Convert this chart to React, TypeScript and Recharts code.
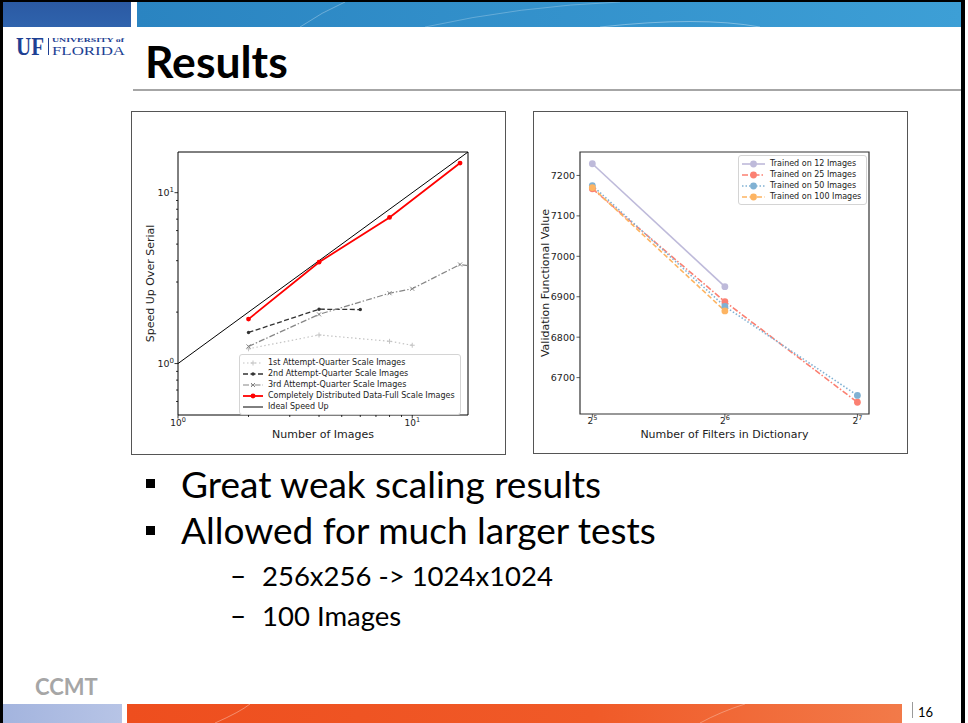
import { LineChart, Line, XAxis, YAxis, ReferenceArea, Legend } from "recharts";

// left chart: speed up vs number of images (log-log)
const images1st = [2, 4, 8, 10];
const speedup1st = [1.22, 1.47, 1.35, 1.28];
const images2nd = [2, 4, 6];
const speedup2nd = [1.52, 2.08, 2.07];
const images3rd = [2, 4, 8, 10, 16, 20];
const speedup3rd = [1.26, 1.94, 2.58, 2.74, 3.8, 3.64];
const imagesFull = [2, 4, 8, 16];
const speedupFull = [1.82, 3.92, 7.16, 14.9];
const imagesIdeal = [1, 17.3];
const speedupIdeal = [1, 17.3];
const speedTicksX = [1, 2, 3, 4, 5, 6, 7, 8, 9, 10];
const speedTicksY = [0.6, 0.7, 0.8, 0.9, 1, 2, 3, 4, 5, 6, 7, 8, 9, 10];

// right chart: validation value vs number of filters
const filters = [32, 64, 128];
const value12 = [7229, 6925];
const value25 = [7167, 6888, 6639];
const value50 = [7175, 6876, 6656];
const value100 = [7170, 6865];
const valueTicks = [6700, 6800, 6900, 7000, 7100, 7200];

const FONT = '"DejaVu Sans", sans-serif';
const SLIDE_FONT = "Lato, sans-serif";

const toPoints = (xs: number[], ys: number[]) =>
  ys.map((y, i) => ({ x: xs[i], y }));

function drawMarker(kind: string, color: string, cx: number, cy: number, key?: any) {
  if (cx == null || cy == null || isNaN(cx) || isNaN(cy)) return <g key={key} />;
  switch (kind) {
    case "plus":
      return <path key={key} d={`M${cx - 2.5},${cy}h5M${cx},${cy - 2.5}v5`} stroke={color} strokeWidth={1} fill="none" />;
    case "cross":
      return <path key={key} d={`M${cx - 2},${cy - 2}l4,4M${cx - 2},${cy + 2}l4,-4`} stroke={color} strokeWidth={1} fill="none" />;
    case "dot":
      return <circle key={key} cx={cx} cy={cy} r={1.7} fill={color} />;
    case "reddot":
      return <circle key={key} cx={cx} cy={cy} r={2.4} fill={color} />;
    case "ball":
      return <circle key={key} cx={cx} cy={cy} r={3.4} fill={color} />;
    default:
      return <g key={key} />;
  }
}

const speedSeries = [
  { name: "1st Attempt-Quarter Scale Images", points: toPoints(images1st, speedup1st), color: "#c4c4c4", width: 1.2, dash: "1.5 2.5", marker: "plus" },
  { name: "2nd Attempt-Quarter Scale Images", points: toPoints(images2nd, speedup2nd), color: "#333333", width: 1.3, dash: "5 2.5", marker: "dot" },
  { name: "3rd Attempt-Quarter Scale Images", points: toPoints(images3rd, speedup3rd), color: "#858585", width: 1.2, dash: "6 2 1.5 2", marker: "cross" },
  { name: "Completely Distributed Data-Full Scale Images", points: toPoints(imagesFull, speedupFull), color: "#ff0000", width: 1.8, dash: undefined, marker: "reddot" },
  { name: "Ideal Speed Up", points: toPoints(imagesIdeal, speedupIdeal), color: "#000000", width: 1, dash: undefined, marker: "none" },
];

const filterSeries = [
  { name: "Trained on 12 Images", points: toPoints(filters, value12), color: "#bebada", width: 1.6, dash: undefined, marker: "ball" },
  { name: "Trained on 25 Images", points: toPoints(filters, value25), color: "#fb8072", width: 1.6, dash: "6 2 1.5 2", marker: "ball" },
  { name: "Trained on 50 Images", points: toPoints(filters, value50), color: "#80b1d3", width: 1.6, dash: "1.5 2", marker: "ball" },
  { name: "Trained on 100 Images", points: toPoints(filters, value100), color: "#fdb462", width: 1.6, dash: "5 2.5", marker: "ball" },
];

const isDecade = (v: number) => Math.abs(Math.log10(v) - Math.round(Math.log10(v))) < 1e-6;

function SpeedTickX(props: any) {
  const { x, y, payload } = props;
  const major = isDecade(payload.value);
  return (
    <g>
      <line x1={x} x2={x} y1={y} y2={y + (major ? 3.5 : 2)} stroke="#000" strokeWidth={0.8} />
      {major && (
        <text x={x} y={y + 11} textAnchor="middle" fontSize={9} fill="#222" fontFamily={FONT}>
          10<tspan dy={-4} fontSize={6.5}>{Math.round(Math.log10(payload.value))}</tspan>
        </text>
      )}
    </g>
  );
}

function SpeedTickY(props: any) {
  const { x, y, payload } = props;
  const major = isDecade(payload.value);
  return (
    <g>
      <line x1={x} x2={x - (major ? 3.5 : 2)} y1={y} y2={y} stroke="#000" strokeWidth={0.8} />
      {major && (
        <text x={x - 4} y={y + 3} textAnchor="end" fontSize={9.5} fill="#222" fontFamily={FONT}>
          10<tspan dy={-4} fontSize={7}>{Math.round(Math.log10(payload.value))}</tspan>
        </text>
      )}
    </g>
  );
}

function FilterTickX(props: any) {
  const { x, y, payload } = props;
  return (
    <g>
      <line x1={x} x2={x} y1={y} y2={y + 3.5} stroke="#333" strokeWidth={0.8} />
      <text x={x} y={y + 10} textAnchor="middle" fontSize={9} fill="#222" fontFamily={FONT}>
        2<tspan dy={-4} fontSize={6.5}>{Math.round(Math.log2(payload.value))}</tspan>
      </text>
    </g>
  );
}

function FilterTickY(props: any) {
  const { x, y, payload } = props;
  return (
    <g>
      <line x1={x} x2={x - 3.5} y1={y} y2={y} stroke="#333" strokeWidth={0.8} />
      <text x={x - 5} y={y + 3.5} textAnchor="end" fontSize={9.5} fill="#222" fontFamily={FONT}>
        {payload.value}
      </text>
    </g>
  );
}

function LegendBox({ series, swatch }: any) {
  return (
    <div
      style={{
        border: "1px solid #d4d4d4",
        borderRadius: 3,
        background: "rgba(255,255,255,0.85)",
        padding: "2px 5px 2px 2px",
        fontFamily: FONT,
        fontSize: 8,
        color: "#222",
      }}
    >
      {series.map((s: any) => (
        <div key={s.name} style={{ display: "flex", alignItems: "center", height: 11, whiteSpace: "nowrap" }}>
          <svg width={swatch} height={10} style={{ marginRight: 4, flex: "none" }}>
            <line x1={1} x2={swatch - 1} y1={5} y2={5} stroke={s.color} strokeWidth={s.width} strokeDasharray={s.dash} />
            {drawMarker(s.marker, s.color, swatch / 2, 5)}
          </svg>
          <span>{s.name}</span>
        </div>
      ))}
    </div>
  );
}

function SpeedChart() {
  return (
    <LineChart width={376} height={346} margin={{ top: 42, right: 38, bottom: 0, left: 0 }}>
      <XAxis
        dataKey="x"
        type="number"
        scale="log"
        domain={[1, 17.3]}
        allowDataOverflow
        ticks={speedTicksX}
        interval={0}
        tickSize={0}
        tickMargin={0}
        tickLine={false}
        axisLine={false}
        height={41}
        tick={<SpeedTickX />}
        label={{ value: "Number of Images", position: "insideBottom", offset: 18, fontSize: 11, fill: "#222" }}
      />
      <YAxis
        dataKey="y"
        type="number"
        scale="log"
        domain={[0.5, 17.3]}
        allowDataOverflow
        ticks={speedTicksY}
        interval={0}
        tickSize={0}
        tickMargin={0}
        tickLine={false}
        axisLine={false}
        width={48}
        tick={<SpeedTickY />}
        label={{ value: "Speed Up Over Serial", angle: -90, position: "insideLeft", offset: 20, fontSize: 11, fill: "#222", style: { textAnchor: "middle" } }}
      />
      <ReferenceArea x1={1} x2={17.3} y1={0.5} y2={17.3} fill="none" stroke="#000" strokeWidth={1} />
      {speedSeries.map((s) => (
        <Line
          key={s.name}
          name={s.name}
          data={s.points}
          dataKey="y"
          type="linear"
          stroke={s.color}
          strokeWidth={s.width}
          strokeDasharray={s.dash}
          dot={(p: any) => drawMarker(s.marker, s.color, p.cx, p.cy, `${s.name}-${p.index}`)}
          activeDot={false}
          isAnimationActive={false}
        />
      ))}
      <Legend
        layout="vertical"
        align="center"
        verticalAlign="middle"
        wrapperStyle={{ left: 109, top: 244, width: "auto" }}
        content={() => <LegendBox series={speedSeries} swatch={22} />}
      />
    </LineChart>
  );
}

function FilterChart() {
  return (
    <LineChart width={375} height={346} margin={{ top: 42, right: 39, bottom: 0, left: 0 }}>
      <XAxis
        dataKey="x"
        type="number"
        scale="log"
        domain={[30, 136]}
        allowDataOverflow
        ticks={filters}
        interval={0}
        tickSize={0}
        tickMargin={0}
        tickLine={false}
        axisLine={false}
        height={42}
        tick={<FilterTickX />}
        label={{ value: "Number of Filters in Dictionary", position: "insideBottom", offset: 18, fontSize: 11, fill: "#222" }}
      />
      <YAxis
        dataKey="y"
        type="number"
        domain={[6610, 7258]}
        allowDataOverflow
        ticks={valueTicks}
        interval={0}
        tickSize={0}
        tickMargin={0}
        tickLine={false}
        axisLine={false}
        width={47}
        tick={<FilterTickY />}
        label={{ value: "Validation Functional Value", angle: -90, position: "insideLeft", offset: 12, fontSize: 11, fill: "#222", style: { textAnchor: "middle" } }}
      />
      <ReferenceArea x1={30} x2={136} y1={6610} y2={7258} fill="none" stroke="#333" strokeWidth={1.2} />
      {filterSeries.map((s) => (
        <Line
          key={s.name}
          name={s.name}
          data={s.points}
          dataKey="y"
          type="linear"
          stroke={s.color}
          strokeWidth={s.width}
          strokeDasharray={s.dash}
          dot={(p: any) => drawMarker(s.marker, s.color, p.cx, p.cy, `${s.name}-${p.index}`)}
          activeDot={false}
          isAnimationActive={false}
        />
      ))}
      <Legend
        layout="vertical"
        align="center"
        verticalAlign="middle"
        wrapperStyle={{ left: 205, top: 45, width: "auto" }}
        content={() => <LegendBox series={filterSeries} swatch={25} />}
      />
    </LineChart>
  );
}

function SlideBackground() {
  return (
    <svg width={968} height={723} style={{ position: "absolute", left: 0, top: 0 }}>
      <defs>
        <linearGradient id="topBand" x1="0" x2="1" y1="0" y2="0">
          <stop offset="0" stopColor="#2a84c1" />
          <stop offset="1" stopColor="#3d9fd6" />
        </linearGradient>
        <linearGradient id="topLeft" x1="0" x2="0" y1="0" y2="1">
          <stop offset="0" stopColor="#2b5aa3" />
          <stop offset="1" stopColor="#2f63ad" />
        </linearGradient>
        <linearGradient id="bottomBand" x1="0" x2="1" y1="0" y2="0">
          <stop offset="0" stopColor="#ee4e1e" />
          <stop offset="0.6" stopColor="#f05a28" />
          <stop offset="1" stopColor="#f27a49" />
        </linearGradient>
        <linearGradient id="bottomLeft" x1="0" x2="1" y1="0" y2="0">
          <stop offset="0" stopColor="#a3b4de" />
          <stop offset="1" stopColor="#b7c4e6" />
        </linearGradient>
      </defs>
      <rect x={0} y={0} width={968} height={723} fill="#fff" />

      {/* header band */}
      <rect x={3} y={2} width={128} height={25} fill="url(#topLeft)" />
      <rect x={137} y={2} width={824} height={25} fill="url(#topBand)" />
      <path d="M300,27 Q322,12 345,2" stroke="rgba(255,255,255,0.3)" fill="none" />
      <path d="M425,27 Q520,6 620,2" stroke="rgba(255,255,255,0.25)" fill="none" />
      <path d="M600,27 Q700,16 760,27" stroke="rgba(255,255,255,0.35)" fill="none" />

      {/* logo */}
      <text x={16} y={55} fontFamily='"Liberation Serif", serif' fontWeight={700} fontSize={25} fill="#1d3f93" textLength={28} lengthAdjust="spacingAndGlyphs">UF</text>
      <line x1={48.5} x2={48.5} y1={38} y2={55} stroke="#1d3f93" strokeWidth={1} />
      <text x={52} y={41.5} fontFamily='"Liberation Serif", serif' fontWeight={700} fontSize={6} fill="#1d3f93" textLength={72} lengthAdjust="spacingAndGlyphs">UNIVERSITY of</text>
      <text x={52} y={55} fontFamily='"Liberation Serif", serif' fontSize={13} fill="#1d3f93" textLength={73} lengthAdjust="spacingAndGlyphs">FLORIDA</text>

      {/* title */}
      <text x={145} y={78} fontFamily={SLIDE_FONT} fontWeight={700} fontSize={44.5} fill="#000">Results</text>
      <rect x={133} y={89} width={828} height={2} fill="#a6a6a6" />

      {/* bullets */}
      <rect x={146} y={479} width={9} height={9} fill="#000" />
      <text x={181} y={498} fontFamily={SLIDE_FONT} fontSize={37} fill="#000">Great weak scaling results</text>
      <rect x={146} y={526} width={9} height={9} fill="#000" />
      <text x={181} y={544} fontFamily={SLIDE_FONT} fontSize={37} fill="#000">Allowed for much larger tests</text>
      <text x={230} y={586} fontFamily={SLIDE_FONT} fontSize={28} fill="#000">–</text>
      <text x={262} y={586} fontFamily={SLIDE_FONT} fontSize={27.5} fill="#000">256x256 -&gt; 1024x1024</text>
      <text x={230} y={626} fontFamily={SLIDE_FONT} fontSize={28} fill="#000">–</text>
      <text x={262} y={626} fontFamily={SLIDE_FONT} fontSize={27.5} fill="#000">100 Images</text>

      {/* footer */}
      <text x={35} y={695} fontFamily={SLIDE_FONT} fontWeight={700} fontSize={22} fill="#a6a6a6">CCMT</text>
      <rect x={3} y={704} width={119} height={19} fill="url(#bottomLeft)" />
      <rect x={127} y={704} width={775} height={19} fill="url(#bottomBand)" />
      <path d="M215,723 Q240,712 250,704" stroke="rgba(255,255,255,0.35)" fill="none" />
      <path d="M700,723 Q720,712 745,704" stroke="rgba(255,255,255,0.3)" fill="none" />
      <line x1={912.5} x2={912.5} y1={702} y2={718} stroke="#9a9a9a" strokeWidth={1} />
      <text x={918} y={717} fontFamily={SLIDE_FONT} fontSize={13} fill="#000">16</text>

      {/* slide frame */}
      <rect x={0} y={0} width={3} height={723} fill="#000" />
      <rect x={0} y={0} width={965} height={2} fill="#000" />
      <rect x={961} y={0} width={4} height={723} fill="#000" />
    </svg>
  );
}

export default function App() {
  return (
    <div style={{ position: "absolute", left: 0, top: 0, width: 968, height: 723, overflow: "hidden", background: "#fff" }}>
      <SlideBackground />
      <div style={{ position: "absolute", left: 131, top: 111, width: 375, height: 344, border: "1px solid #555", boxSizing: "border-box" }} />
      <div style={{ position: "absolute", left: 533, top: 111, width: 375, height: 343, border: "1px solid #555", boxSizing: "border-box" }} />
      <div style={{ position: "absolute", left: 130, top: 110, fontFamily: FONT }}>
        <SpeedChart />
      </div>
      <div style={{ position: "absolute", left: 533, top: 110, fontFamily: FONT }}>
        <FilterChart />
      </div>
    </div>
  );
}
